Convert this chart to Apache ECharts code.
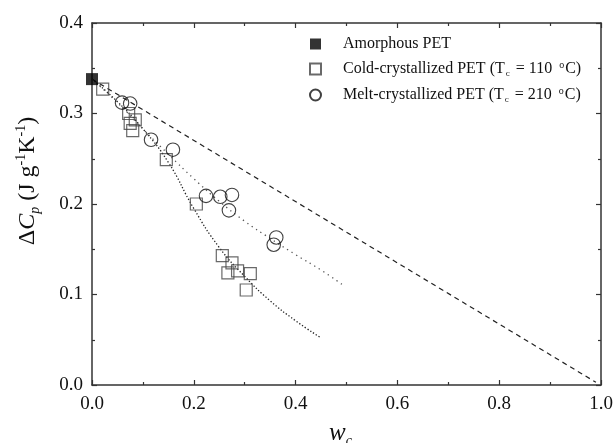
<!DOCTYPE html>
<html>
<head>
<meta charset="utf-8">
<script src="https://cdn.jsdelivr.net/npm/echarts@6/dist/echarts.min.js"></script>
<style>html,body{margin:0;padding:0;background:#fff}#c{width:616px;height:443px}</style>
</head>
<body>
<div id="c"></div>
<script>
// ---- data ----
const amorphousPts = [[0.0, 0.338]];
const coldPts = [
  [0.021, 0.327], [0.072, 0.300], [0.075, 0.289], [0.085, 0.293], [0.080, 0.281],
  [0.146, 0.249], [0.205, 0.200], [0.256, 0.143], [0.275, 0.135], [0.267, 0.124],
  [0.286, 0.126], [0.311, 0.123], [0.303, 0.105]
];
const meltPts = [
  [0.059, 0.312], [0.075, 0.311], [0.116, 0.271], [0.159, 0.260], [0.224, 0.209],
  [0.252, 0.208], [0.275, 0.210], [0.269, 0.193], [0.362, 0.163], [0.357, 0.155]
];
const twoPhaseLine = [[0.0, 0.338], [0.99, 0.003]];
const coldFit = [
  [0.0, 0.338], [0.05, 0.313], [0.10, 0.283], [0.15, 0.246], [0.20, 0.195],
  [0.25, 0.152], [0.30, 0.120], [0.35, 0.093], [0.40, 0.071], [0.45, 0.052]
];
const meltFit = [
  [0.0, 0.338], [0.05, 0.312], [0.10, 0.283], [0.15, 0.255], [0.20, 0.228],
  [0.25, 0.203], [0.30, 0.181], [0.35, 0.162], [0.40, 0.144], [0.45, 0.127], [0.494, 0.110]
];
const xTicks = { min: 0, max: 1.0, interval: 0.2 };
const yTicks = { min: 0, max: 0.4, interval: 0.1 };
const legendNames = ['Amorphous PET', 'Cold-crystallized PET', 'Melt-crystallized PET'];

// ---- chart ----
const FONT = 'Liberation Serif';
const AX = '#333';
const chart = echarts.init(document.getElementById('c'), null, { renderer: 'canvas' });

function axisBase(extra) {
  return Object.assign({
    type: 'value',
    axisLine: { show: true, onZero: false, lineStyle: { color: AX, width: 1.5 } },
    axisTick: { show: true, inside: true, length: 5, lineStyle: { color: AX, width: 1.2 } },
    minorTick: { show: true, splitNumber: 2, length: 3, lineStyle: { color: AX, width: 1.2 } },
    splitLine: { show: false },
    minorSplitLine: { show: false }
  }, extra);
}

const legendFmt = {
  'Amorphous PET': '{n|Amorphous PET}',
  'Cold-crystallized PET': '{n|Cold-crystallized PET (T}{sub|c}{n| = 110 }{sup|o}{n|C)}',
  'Melt-crystallized PET': '{n|Melt-crystallized PET (T}{sub|c}{n| = 210 }{sup|o}{n|C)}'
};

const option = {
  animation: false,
  backgroundColor: '#fff',
  grid: { left: 92, right: 15, top: 23, bottom: 58, outerBoundsMode: 'none', containLabel: false },
  legend: {
    data: legendNames,
    orient: 'vertical',
    left: 304,
    top: 31,
    itemWidth: 11,
    itemHeight: 11,
    itemGap: 8,
    formatter: function (n) { return legendFmt[n]; },
    textStyle: {
      fontFamily: FONT, fontSize: 16, color: '#111',
      padding: [0, 0, 0, 17],
      rich: {
        n: { fontFamily: FONT, fontSize: 16, color: '#111', lineHeight: 18 },
        sub: { fontFamily: FONT, fontSize: 9, color: '#111', lineHeight: 18, verticalAlign: 'bottom', padding: [6, 2, 0, 1] },
        sup: { fontFamily: FONT, fontSize: 10, color: '#111', lineHeight: 18, verticalAlign: 'top', padding: [0, 1, 6, 3] }
      }
    }
  },
  xAxis: [
    axisBase({
      min: xTicks.min, max: xTicks.max, interval: xTicks.interval, position: 'bottom',
      axisLabel: { show: true, margin: 10, fontFamily: FONT, fontSize: 19, color: '#111',
        formatter: function (v) { return v.toFixed(1); } },
      name: '{i|w}{sub|c}',
      nameLocation: 'middle',
      nameGap: 33,
      nameTextStyle: {
        padding: [0, 12, 0, 0],
        rich: {
          i: { fontFamily: FONT, fontSize: 25, fontStyle: 'italic', color: '#111', lineHeight: 30 },
          sub: { fontFamily: FONT, fontSize: 14, fontStyle: 'italic', color: '#111', lineHeight: 30, verticalAlign: 'bottom', padding: [14, 0, 0, 0] }
        }
      }
    }),
    axisBase({
      min: xTicks.min, max: xTicks.max, interval: xTicks.interval, position: 'top',
      axisLabel: { show: false }
    })
  ],
  yAxis: [
    axisBase({
      min: yTicks.min, max: yTicks.max, interval: yTicks.interval, position: 'left',
      axisLabel: { show: true, margin: 9, fontFamily: FONT, fontSize: 19, color: '#111',
        formatter: function (v) { return v.toFixed(1); } },
      name: '{d|Δ}{i|C}{sub|p}{n| (J g}{sup|-1}{n|K}{sup|-1}{n|)}',
      nameLocation: 'middle',
      nameRotate: 90,
      nameGap: 50,
      nameTextStyle: {
        padding: [0, 0, 0, 46],
        rich: {
          d: { fontFamily: FONT, fontSize: 24, color: '#111', lineHeight: 28 },
          i: { fontFamily: FONT, fontSize: 24, fontStyle: 'italic', color: '#111', lineHeight: 28 },
          n: { fontFamily: FONT, fontSize: 24, color: '#111', lineHeight: 28 },
          sub: { fontFamily: FONT, fontSize: 14, fontStyle: 'italic', color: '#111', lineHeight: 28, verticalAlign: 'bottom', padding: [11, 0, 0, 0] },
          sup: { fontFamily: FONT, fontSize: 14, color: '#111', lineHeight: 28, verticalAlign: 'top', padding: [0, 0, 11, 0] }
        }
      }
    }),
    axisBase({
      min: yTicks.min, max: yTicks.max, interval: yTicks.interval, position: 'right',
      axisLabel: { show: false }
    })
  ],
  series: [
    {
      name: 'twoPhase', type: 'line', data: twoPhaseLine, showSymbol: false, silent: true,
      lineStyle: { color: '#222', width: 1.2, type: [5, 4] }, z: 1
    },
    {
      name: 'coldFit', type: 'line', data: coldFit, smooth: true, showSymbol: false, silent: true,
      lineStyle: { color: '#222', width: 1.3, type: [1.3, 2] }, z: 1
    },
    {
      name: 'meltFit', type: 'line', data: meltFit, smooth: true, showSymbol: false, silent: true,
      lineStyle: { color: '#555', width: 1.3, type: [1.3, 4] }, z: 1
    },
    {
      name: 'Cold-crystallized PET', type: 'scatter', data: coldPts, symbol: 'rect', symbolSize: 12,
      itemStyle: { color: 'rgba(255,255,255,0)', borderColor: '#444', borderWidth: 1.2 }, z: 3
    },
    {
      name: 'Melt-crystallized PET', type: 'scatter', data: meltPts, symbol: 'circle', symbolSize: 13.5,
      itemStyle: { color: 'rgba(255,255,255,0)', borderColor: '#111', borderWidth: 1.1 }, z: 3
    },
    {
      name: 'Amorphous PET', type: 'scatter', data: amorphousPts, symbol: 'rect', symbolSize: 12,
      itemStyle: { color: '#000' }, z: 4
    }
  ]
};
chart.setOption(option);
</script>
</body>
</html>
